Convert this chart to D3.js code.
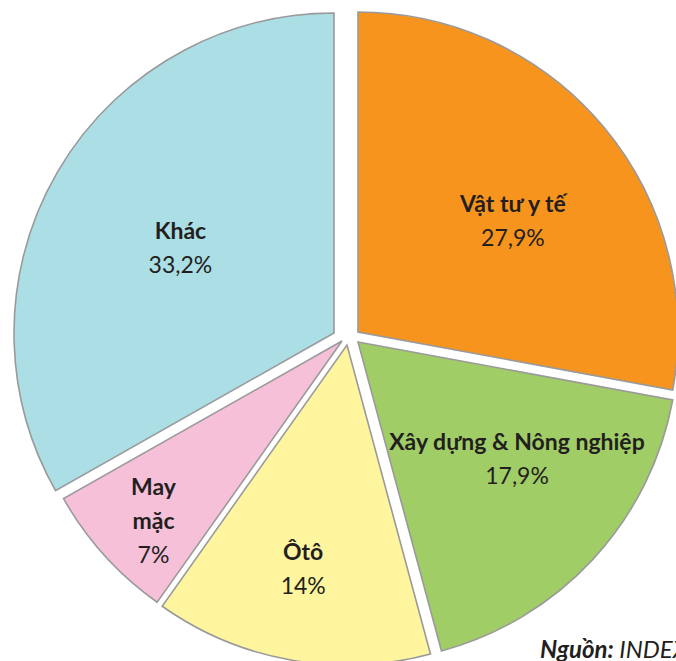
<!DOCTYPE html>
<html>
    <head>
        <meta charset="UTF-8"/>
        <style>
            body { margin: 0; background: #fff; }
            svg { display: block; }
        </style>
    </head>
    <body>
        <script src="https://d3js.org/d3.v7.min.js" type="text/javascript"></script>
        <script>
            // categories and shares (%), clockwise from 12 o'clock
            var categories = ["Vật tư y tế", "Xây dựng & Nông nghiệp", "Ôtô", "May mặc", "Khác"];
            var shares = [27.9, 17.9, 14, 7, 33.2];
            var colors = ["#f7941d", "#a0cd66", "#fff59f", "#f6c0d9", "#abdee5"];

            let width = 676;
            let height = 661;
            let radius = 320;
            let cx = 347, cy = 338;

            // hand placed "explode" shift of every slice, label radius / angle nudge
            let shift = [[11, -6], [11, 4], [0, 7], [-5, 3], [-13, -5]];
            let labelR = [191, 197, 228, 260, 176];
            let labelNudge = [4, -6.5, 1, -1.4, -1];
            let wrap = [false, false, false, true, false];

            let svg = d3.select("body")
                .append("svg")
                .attr("width", width)
                .attr("height", height);

            let pie = d3.pie()
                .sort(null)
                .value(function(d) { return d; });

            let arc = d3.arc()
                .innerRadius(0)
                .outerRadius(radius);

            let arcs = pie(shares);

            let slices = svg.selectAll("g.slice")
                .data(arcs)
                .enter()
                .append("g")
                .attr("class", "slice")
                .attr("transform", function(d, i) {
                    return "translate(" + (cx + shift[i][0]) + "," + (cy + shift[i][1]) + ")";
                });

            slices.append("path")
                .attr("d", arc)
                .attr("fill", function(d, i) { return colors[i]; })
                .attr("stroke", "#9a9a9a")
                .attr("stroke-width", 1.6)
                .attr("stroke-linejoin", "miter");

            let fmt = function(v) {
                return String(v).replace(".", ",") + "%";
            };

            let lh = 34;
            let cap = 17;
            slices.each(function(d, i) {
                let a = (d.startAngle + d.endAngle) / 2 + labelNudge[i] * Math.PI / 180;
                let x = labelR[i] * Math.sin(a);
                let y = -labelR[i] * Math.cos(a);
                let lines = wrap[i] ? categories[i].split(" ") : [categories[i]];
                let n = lines.length + 1;
                let top = y - (cap + (n - 1) * lh) / 2 + cap;
                let t = d3.select(this).append("text")
                    .attr("text-anchor", "middle")
                    .attr("font-family", "Lato, sans-serif")
                    .attr("font-size", 23)
                    .attr("fill", "#231f20");
                lines.forEach(function(s, k) {
                    t.append("tspan")
                        .attr("x", x)
                        .attr("y", top + k * lh)
                        .attr("font-weight", "bold")
                        .text(s);
                });
                t.append("tspan")
                    .attr("x", x)
                    .attr("y", top + lines.length * lh)
                    .text(fmt(shares[i]));
            });

            // source note, cut at the right edge as in the original
            let src = svg.append("text")
                .attr("x", 540)
                .attr("y", 658)
                .attr("font-family", "Lato, sans-serif")
                .attr("font-size", 24)
                .attr("font-style", "italic")
                .attr("fill", "#231f20");
            src.append("tspan").attr("font-weight", "bold").text("Nguồn:");
            src.append("tspan").text(" INDEXBOX");
        </script>
    </body>
</html>
